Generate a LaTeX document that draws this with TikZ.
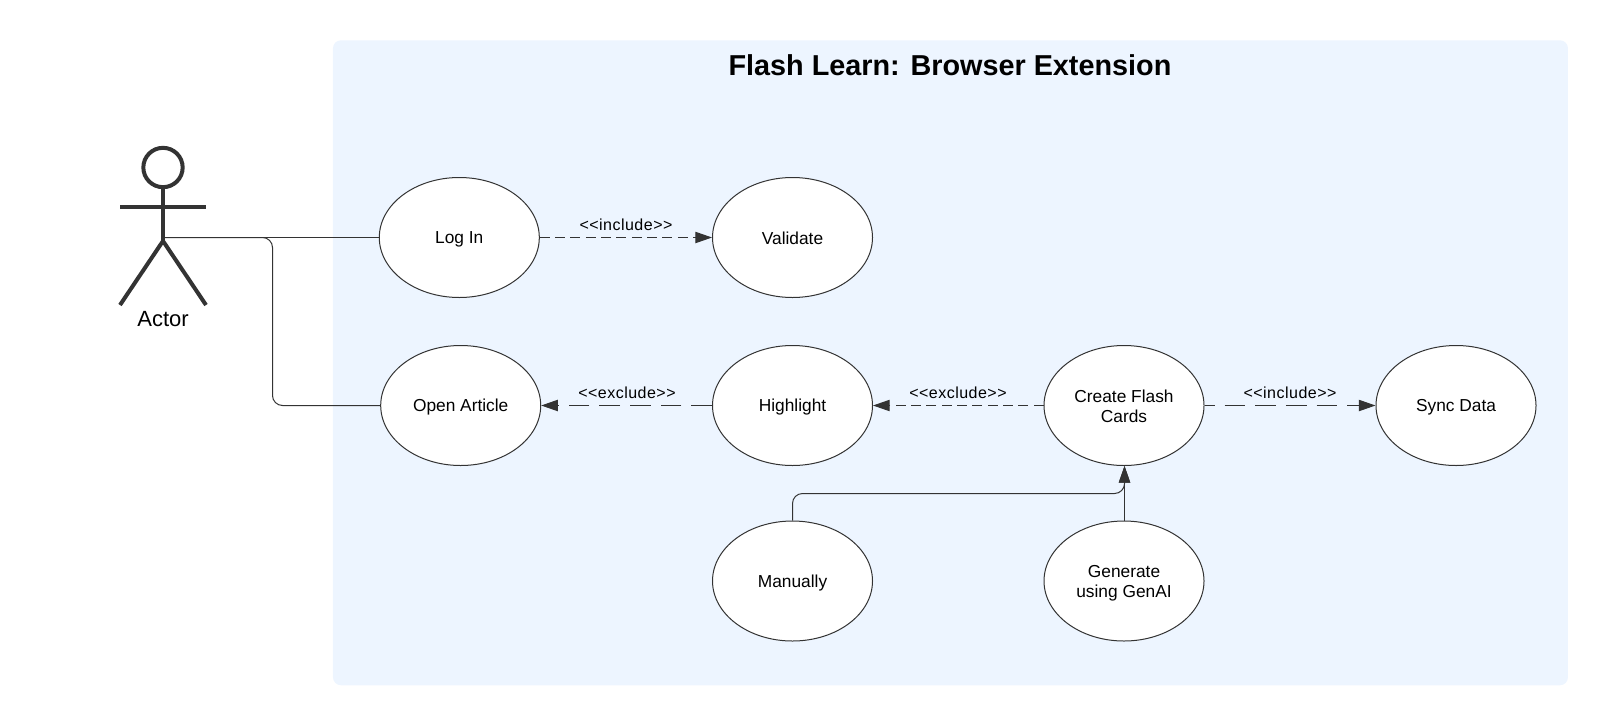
\documentclass[tikz,border=0pt]{standalone}
\usepackage{fontspec}
\setmainfont{Liberation Sans}
\usetikzlibrary{shapes.geometric,arrows.meta}
\definecolor{ln}{HTML}{333333}
\definecolor{bg}{HTML}{EDF5FF}
\newcommand{\ustrut}{\vrule height 12pt depth 0.9pt width 0pt}
\tikzset{
  usecase/.style={ellipse,draw=ln,line width=0.75pt,fill=white,minimum width=120pt,minimum height=90pt,inner sep=0pt,align=center,font=\fontsize{13}{15}\selectfont},
  assoc/.style={draw=ln,line width=0.75pt,rounded corners=7.5pt},
  tip/.style={-{Triangle[length=12.5pt,width=8.5pt,color=ln]}},
  longdash/.style={draw=ln,line width=0.75pt,tip,dash pattern=on 15.5pt off 7.5pt},
  shortdash/.style={draw=ln,line width=0.75pt,tip,dash pattern=on 7.5pt off 4pt},
  stereo/.style={inner sep=0pt,font=\fontsize{12}{14}\selectfont\addfontfeature{LetterSpace=3}},
  limb/.style={draw=ln,line width=3pt}
}
\begin{document}
\begin{tikzpicture}[x=0.75pt,y=-0.75pt]
\useasboundingbox (0,0) rectangle (1608,725);
\node[rectangle,fill=bg,rounded corners=6pt,minimum width=926.25pt,minimum height=483.75pt,inner sep=0pt,anchor=north west] (system) at (332.7,40) {};
\node[inner sep=0pt,font=\fontsize{21.6}{26}\selectfont\bfseries] (title) at (950,65) {Flash Learn: Browser Extension};
% actor
\node[circle,draw=ln,line width=3pt,minimum size=29.5pt,inner sep=0pt] (head) at (163,167.5) {};
\coordinate (hip) at (163,241);
\coordinate (armL) at (120,207);
\coordinate (armR) at (206,207);
\coordinate (footL) at (120,305);
\coordinate (footR) at (206,305);
\coordinate (waist) at (163,237.5);
\draw[limb] (head.south) -- (hip);
\draw[limb] (armL) -- (armR);
\draw[limb,line join=miter] (footL) -- (hip) -- (footR);
\node[inner sep=0pt,font=\fontsize{16.5}{18}\selectfont] (actor) at (163,319.5) {Actor};
% use cases
\node[usecase] (login) at (459.3,237.5) {\ustrut Log In};
\node[usecase] (validate) at (792.5,237.5) {\ustrut Validate};
\node[usecase] (open) at (460.7,405.5) {\ustrut Open Article};
\node[usecase] (highlight) at (792.5,405.5) {\ustrut Highlight};
\node[usecase] (create) at (1124,405.5) {\ustrut Create Flash\\\ustrut Cards};
\node[usecase] (sync) at (1456,405.5) {\ustrut Sync Data};
\node[usecase] (manual) at (792.5,581) {\ustrut Manually};
\node[usecase] (genai) at (1124,581) {\ustrut Generate\\\ustrut using GenAI};
% associations
\coordinate (elbow) at (272.5,237.5);
\draw[draw=ln,line width=0.75pt] (waist) -- (login.west);
\draw[assoc] (waist) -- (elbow) -- (elbow |- open.west) -- (open.west);
% dependencies
\draw[shortdash] (login.east) -- (validate.west);
\draw[longdash] (highlight.west) -- (open.east);
\draw[shortdash] (create.west) -- (highlight.east);
\draw[longdash,dash phase=8pt] (create.east) -- (sync.west);
\coordinate (turn) at (792.5,493.5);
\coordinate (entry) at ([xshift=0.375pt]create.south);
\draw[assoc,tip] (manual.north) -- (turn) -- (turn -| entry) -- (entry);
\draw[draw=ln,line width=0.75pt,tip] ([xshift=0.375pt]genai.north) -- (entry);
% labels
\node[stereo] (l1) at (626,225) {<{}<include>{}>};
\node[stereo] (l2) at (627,393) {<{}<exclude>{}>};
\node[stereo] (l3) at (958,393) {<{}<exclude>{}>};
\node[stereo] (l4) at (1290,393) {<{}<include>{}>};
\end{tikzpicture}
\end{document}
